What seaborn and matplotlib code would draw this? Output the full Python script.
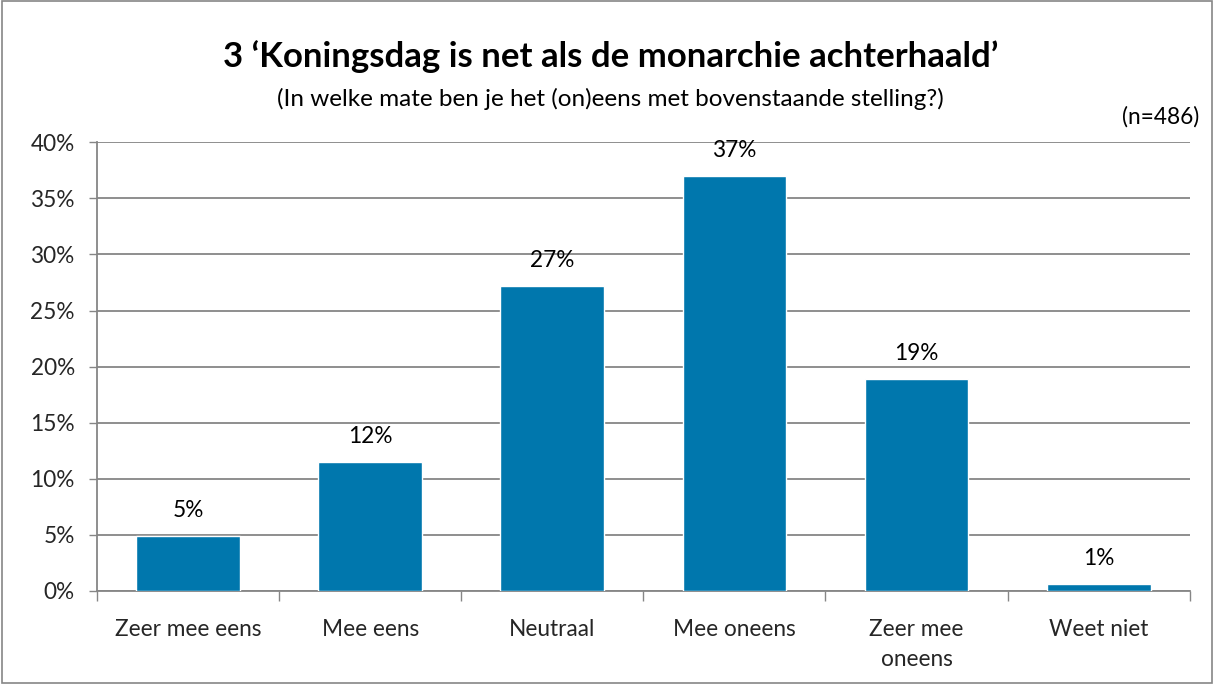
import matplotlib
matplotlib.use("Agg")
import matplotlib.pyplot as plt
import seaborn as sns
import pandas as pd
import numpy as np
from matplotlib.ticker import FixedLocator
from matplotlib.patches import Rectangle

categories = ["Zeer mee eens", "Mee eens", "Neutraal", "Mee oneens", "Zeer mee\noneens", "Weet niet"]
values = [4.9, 11.5, 27.2, 37.0, 18.9, 0.6]
labels = ["5%", "12%", "27%", "37%", "19%", "1%"]
yticks = [0, 5, 10, 15, 20, 25, 30, 35, 40]

sns.set_theme(style="white")
plt.rcParams['font.family'] = ['Lato', 'DejaVu Sans']

fig = plt.figure(figsize=(12.14, 6.84), dpi=100)
ax = fig.add_axes([0.0799, 0.136, 0.9001, 0.656])

df = pd.DataFrame({"cat": categories, "val": values})
sns.barplot(data=df, x="cat", y="val", color="#0077AD", saturation=1, width=0.57, ax=ax, zorder=3)

ax.set_ylim(0, 40)
ax.set_xlim(-0.5, len(categories) - 0.5)
ax.set_yticks(yticks)
ax.set_yticklabels([f"{t}%" for t in yticks], fontsize=16.3)
ax.yaxis.grid(True, color="#868686", linewidth=1.3, zorder=0)
ax.set_axisbelow(True)
ax.tick_params(axis="y", length=6, width=1, color="#868686", pad=10, left=True)
ax.tick_params(axis="x", which="major", length=0, pad=20, labelsize=16.3)
for t in ax.get_xticklabels():
    t.set_linespacing(1.55)
ax.xaxis.set_minor_locator(FixedLocator(np.arange(-0.5, len(categories), 1.0)))
ax.tick_params(axis="x", which="minor", length=7, width=1, color="#868686", bottom=True)
ax.set_xlabel("")
ax.set_ylabel("")
for s in ["top", "right"]:
    ax.spines[s].set_visible(False)
for s in ["left", "bottom"]:
    ax.spines[s].set_color("#868686")
    ax.spines[s].set_linewidth(1.3)

for p, lab in zip(ax.patches, labels):
    ax.annotate(lab, (p.get_x() + p.get_width() / 2, p.get_height()),
                xytext=(0, 11), textcoords="offset points", ha="center", va="bottom",
                fontsize=16.3, color="black")

fig.text(0.503, 0.918, "3 \u2018Koningsdag is net als de monarchie achterhaald\u2019",
         ha="center", va="center", fontsize=25, fontweight="bold", color="black")
fig.text(0.503, 0.855, "(In welke mate ben je het (on)eens met bovenstaande stelling?)",
         ha="center", va="center", fontsize=17.5, color="black")
fig.text(0.988, 0.829, "(n=486)", ha="right", va="center", fontsize=16.3, color="black")

fig.patches.append(Rectangle((0.002, 0.002), 0.996, 0.996, transform=fig.transFigure,
                             fill=False, edgecolor="#868686", linewidth=1.2))

fig.savefig("out.png", dpi=100)
